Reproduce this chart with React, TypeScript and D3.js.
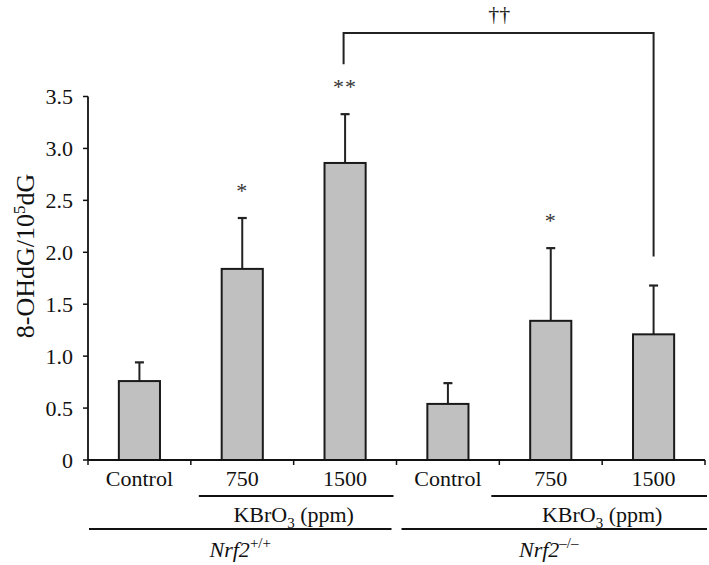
import React from "react";
import * as d3 from "d3";

const categories = ["Control", "750", "1500", "Control", "750", "1500"];
const means = [0.76, 1.84, 2.86, 0.54, 1.34, 1.21];
const sds = [0.18, 0.49, 0.47, 0.2, 0.7, 0.47];
const marks = ["", "*", "**", "", "*", ""];
const yTicks = [0, 0.5, 1.0, 1.5, 2.0, 2.5, 3.0, 3.5];
const yTickLabels = ["0", "0.5", "1.0", "1.5", "2.0", "2.5", "3.0", "3.5"];
const genotypes = ["+/+", "\u2013/\u2013"];
const doseGroupLabel = "KBrO";
const bracketLabel = "\u2020\u2020";

const W = 709;
const H = 565;
const left = 88;
const right = 705;
const y0 = 460;
const yTop = 96.5;
const FONT = "'Liberation Serif', 'Times New Roman', serif";
const FS = 22;

export default function App() {
  const x = d3
    .scaleBand<number>()
    .domain(d3.range(categories.length))
    .range([left, right])
    .paddingInner(0.6)
    .paddingOuter(0.3);
  const y = d3.scaleLinear().domain([0, 3.5]).range([y0, yTop]);
  const step = x.step();
  const bw = x.bandwidth();
  const cx = (i: number) => (x(i) as number) + bw / 2;
  const boundaries = d3.range(categories.length + 1).map((i) => left + i * step);

  const bracketTop = y(3.5) - 63.5;
  const bracketLeftBottom = y(means[2] + sds[2]) - 50;
  const bracketRightBottom = y(means[5] + sds[5]) - 29;

  return (
    <svg
      width={W}
      height={H}
      style={{ position: "absolute", left: 0, top: 0, background: "#fff" }}
      fontFamily={FONT}
    >
      {/* bars */}
      {means.map((m, i) => (
        <g key={"b" + i}>
          <line
            x1={cx(i)}
            x2={cx(i)}
            y1={y(m)}
            y2={y(m + sds[i])}
            stroke="#222"
            strokeWidth={2}
          />
          <line
            x1={cx(i) - 4.5}
            x2={cx(i) + 4.5}
            y1={y(m + sds[i])}
            y2={y(m + sds[i])}
            stroke="#222"
            strokeWidth={2.2}
          />
          <rect
            x={x(i)}
            y={y(m)}
            width={bw}
            height={y(0) - y(m)}
            fill="#c0c0c0"
            stroke="#1a1a1a"
            strokeWidth={2}
          />
          {marks[i] && (
            <text
              x={cx(i)}
              y={y(m + sds[i]) - 20}
              textAnchor="middle"
              fontSize={FS}
              fill="#333"
              letterSpacing={1}
            >
              {marks[i]}
            </text>
          )}
        </g>
      ))}

      {/* y axis */}
      <line x1={left} x2={left} y1={y0} y2={y(3.5)} stroke="#111" strokeWidth={1.8} />
      {yTicks.map((t, i) => (
        <g key={"yt" + i}>
          <line x1={left - 5} x2={left} y1={y(t)} y2={y(t)} stroke="#111" strokeWidth={1.5} />
          <text
            x={left - 15}
            y={y(t)}
            dy="0.35em"
            textAnchor="end"
            fontSize={FS}
            fill="#111"
          >
            {yTickLabels[i]}
          </text>
        </g>
      ))}
      <text
        transform={`translate(34, ${256}) rotate(-90)`}
        textAnchor="middle"
        fontSize={26}
        fill="#111"
      >
        8-OHdG/10
        <tspan dy={-9} fontSize={17}>
          5
        </tspan>
        <tspan dy={9}>dG</tspan>
      </text>

      {/* x axis */}
      <line x1={left} x2={right} y1={y0} y2={y0} stroke="#111" strokeWidth={1.8} />
      {boundaries.map((b, i) => (
        <line key={"xt" + i} x1={b} x2={b} y1={y0} y2={y0 + 5} stroke="#111" strokeWidth={1.5} />
      ))}
      {categories.map((c, i) => (
        <text key={"c" + i} x={cx(i)} y={486} textAnchor="middle" fontSize={FS} fill="#111">
          {c}
        </text>
      ))}

      {/* group lines */}
      {[0, 1].map((g) => {
        const gStart = left + g * 3 * step;
        const kx1 = gStart + step + (g === 0 ? 8 : -8);
        const kx2 = gStart + 3 * step - (g === 0 ? 3 : -2);
        const nx1 = gStart + (g === 0 ? 1 : 5);
        const nx2 = gStart + 3 * step - (g === 0 ? 5 : -2);
        return (
          <g key={"g" + g}>
            <line x1={kx1} x2={kx2} y1={496} y2={496} stroke="#111" strokeWidth={1.8} />
            <text
              x={(cx(g * 3 + 1) + cx(g * 3 + 2)) / 2}
              y={522}
              textAnchor="middle"
              fontSize={FS}
              fill="#111"
            >
              {doseGroupLabel}
              <tspan dy={6} fontSize={15}>
                3
              </tspan>
              <tspan dy={-6}> (ppm)</tspan>
            </text>
            <line x1={nx1} x2={nx2} y1={529} y2={529} stroke="#111" strokeWidth={1.8} />
            <text
              x={cx(g * 3 + 1) - 2}
              y={557}
              textAnchor="middle"
              fontSize={FS}
              fill="#111"
            >
              <tspan fontStyle="italic">Nrf2</tspan>
              <tspan dy={-9} fontSize={15}>
                {genotypes[g]}
              </tspan>
            </text>
          </g>
        );
      })}

      {/* significance bracket */}
      <path
        d={`M${cx(2) - 1.5},${bracketLeftBottom} V${bracketTop} H${cx(5)} V${bracketRightBottom}`}
        fill="none"
        stroke="#222"
        strokeWidth={2}
      />
      <text
        x={(cx(2) + cx(5)) / 2}
        y={21}
        textAnchor="middle"
        fontSize={FS}
        fill="#222"
      >
        {bracketLabel}
      </text>
    </svg>
  );
}
